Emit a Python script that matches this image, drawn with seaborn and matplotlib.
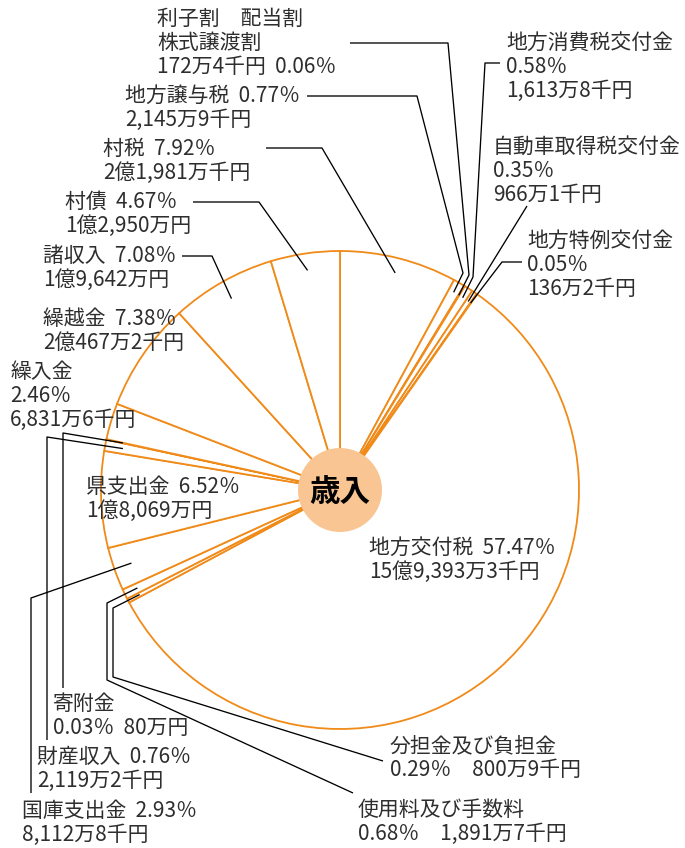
import numpy as np
import matplotlib
matplotlib.use('Agg')
import matplotlib.pyplot as plt
import seaborn as sns
from matplotlib import font_manager

# 歳入の内訳 (時計回り、上から)
items = ['村税', '地方譲与税', '利子割　配当割　株式譲渡割', '地方消費税交付金',
         '自動車取得税交付金', '地方特例交付金', '地方交付税', '分担金及び負担金',
         '使用料及び手数料', '国庫支出金', '県支出金', '財産収入', '寄附金',
         '繰入金', '繰越金', '諸収入', '村債']
shares = [7.92, 0.77, 0.06, 0.58, 0.35, 0.05, 57.47, 0.29, 0.68, 2.93,
          6.52, 0.76, 0.03, 2.46, 7.38, 7.08, 4.67]
amounts = ['2億1,981万千円', '2,145万9千円', '172万4千円', '1,613万8千円',
           '966万1千円', '136万2千円', '15億9,393万3千円', '800万9千円',
           '1,891万7千円', '8,112万8千円', '1億8,069万円', '2,119万2千円',
           '80万円', '6,831万6千円', '2億467万2千円', '1億9,642万円', '1億2,950万円']
center_label = '歳入'

sns.set_theme(style='white')
narrow = 'Liberation Sans Narrow'
names = {f.name for f in font_manager.fontManager.ttflist}
fams = ([narrow] if narrow in names else []) + ['Noto Sans CJK JP', 'DejaVu Sans']
plt.rcParams['font.family'] = fams

W, H = 685, 848
CX, CY, R = 340, 490, 239
orange = '#F08A18'
txt_color = '#2e2e2e'


def px(x, y):
    return (x - CX) / R, (CY - y) / R


# label layout in pixels: text left x, first line y, line templates, leader path, leader end radius
two = ['{n}  {p}', '{a}']
three = ['{n}', '{p}', '{a}']
layout = {
    '村税': ((103, 149), two, [(266, 148), (322, 148)], 224),
    '地方譲与税': ((125, 96), two, [(307, 96), (417, 96), (463, 273)], 228),
    '利子割　配当割　株式譲渡割': ((157, 19), ['利子割　配当割', '株式譲渡割', '{a}  {p}'],
                      [(350, 43), (448, 43), (469, 275)], 228),
    '地方消費税交付金': ((506, 43), three, [(500, 63), (485, 63), (473, 277)], 228),
    '自動車取得税交付金': ((493, 147), three, [(527, 206)], 228),
    '地方特例交付金': ((527, 241), three, [(522, 262), (502, 262)], 228),
    '地方交付税': ((369, 548), two, [], 0),
    '分担金及び負担金': ((390, 746), ['{n}', '{p}　{a}'],
                  [(383, 761), (113, 677), (113, 608)], 226),
    '使用料及び手数料': ((358, 810), ['{n}', '{p}　{a}'],
                  [(353, 793), (107, 680), (107, 603)], 225),
    '国庫支出金': ((22, 811), two, [(31, 793), (31, 598)], 221),
    '県支出金': ((86, 487), two, [], 0),
    '財産収入': ((37, 757), two, [(47, 740), (47, 437)], 221),
    '寄附金': ((53, 704), ['{n}', '{p}  {a}'], [(63, 688), (63, 433)], 222),
    '繰入金': ((10, 372), three, [], 0),
    '繰越金': ((43, 319), two, [], 0),
    '諸収入': ((43, 256), two, [(182, 256), (212, 256)], 220),
    '村債': ((65, 202), two, [(193, 202), (259, 202)], 222),
}
step = 24

fig = plt.figure(figsize=(W / 100, H / 100), dpi=100)
ax = fig.add_axes([0, 0, 1, 1])
ax.pie(shares, startangle=90, counterclock=False, colors=['white'] * len(shares),
       radius=1, center=(0, 0),
       wedgeprops=dict(edgecolor=orange, linewidth=1.3))
ax.set_xlim(-CX / R, (W - CX) / R)
ax.set_ylim(-(H - CY) / R, CY / R)
ax.set_aspect('equal')
ax.axis('off')

vals = np.array(shares)
cum = np.cumsum(vals)
mids = np.deg2rad(90 - 360 * (cum - vals / 2) / vals.sum())

for i, name in enumerate(items):
    (tx, ty), lines, path, r_end = layout[name]
    pct = f'{shares[i]:.2f}％'
    for k, tpl in enumerate(lines):
        s = tpl.format(n=name, p=pct, a=amounts[i])
        x, y = px(tx, ty + k * step)
        ax.text(x, y, s, ha='left', va='center', fontsize=15, color=txt_color, zorder=6)
    if path:
        pts = [px(*p) for p in path]
        pts.append((r_end / R * np.cos(mids[i]), r_end / R * np.sin(mids[i])))
        xs, ys = zip(*pts)
        ax.plot(xs, ys, color='black', lw=0.95, solid_capstyle='butt', zorder=4)

ax.add_patch(plt.Circle((0, 0), 42 / R, facecolor='#F9C592', edgecolor='none', zorder=5))
ax.text(0, px(0, 492)[1], center_label, ha='center', va='center', fontsize=22,
        fontweight='bold', family=['Noto Sans CJK JP'], color='black', zorder=6)

fig.savefig('out.png', dpi=100)
